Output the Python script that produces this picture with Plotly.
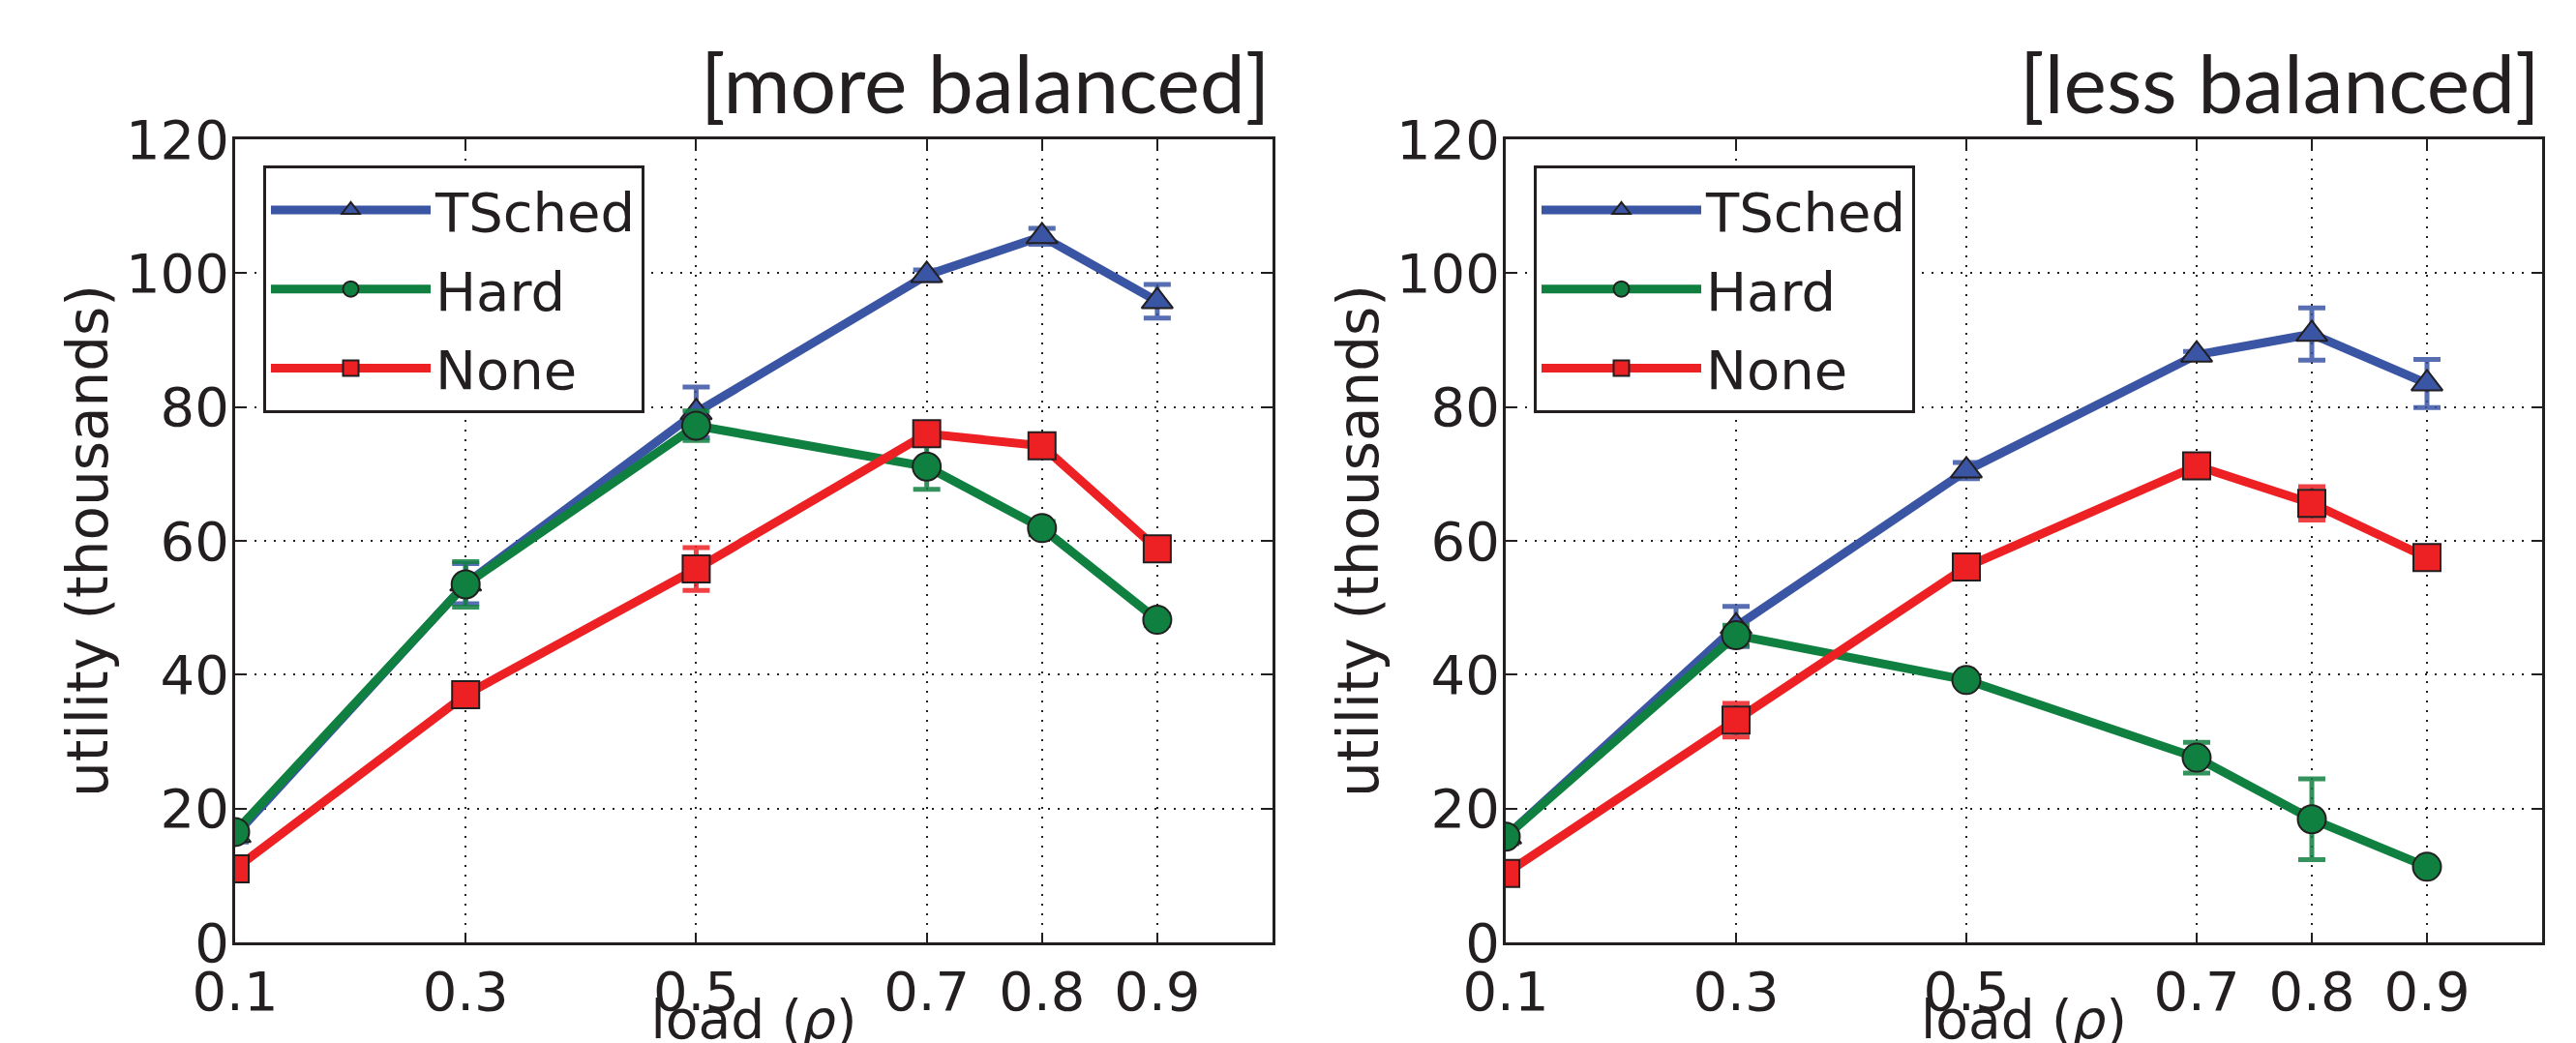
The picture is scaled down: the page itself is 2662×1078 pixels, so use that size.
import plotly.graph_objects as go
from plotly.subplots import make_subplots

# ---------------- data ----------------
loads = [0.1, 0.3, 0.5, 0.7, 0.8, 0.9]
x_tick_vals = [0.1, 0.3, 0.5, 0.7, 0.8, 0.9]
x_tick_text = ["0.1", "0.3", "0.5", "0.7", "0.8", "0.9"]
y_tick_vals = [0, 20, 40, 60, 80, 100, 120]
y_tick_text = ["0", "20", "40", "60", "80", "100", "120"]

series_names = ["TSched", "Hard", "None"]
panel_titles = ["[more balanced]", "[less balanced]"]

# left panel: more balanced (thousands)
more_tsched = [16.0, 53.6, 79.2, 99.7, 105.5, 95.8]
more_tsched_err = [1.0, 3.0, 3.8, 0.8, 1.2, 2.5]
more_hard = [16.5, 53.5, 77.2, 71.1, 61.9, 48.2]
more_hard_err = [1.0, 3.4, 2.2, 3.4, 1.0, 0.8]
more_none = [11.0, 37.0, 55.8, 76.0, 74.2, 58.8]
more_none_err = [1.0, 0.8, 3.2, 1.6, 1.0, 0.8]

# right panel: less balanced (thousands)
less_tsched = [15.8, 47.2, 70.5, 87.8, 90.9, 83.5]
less_tsched_err = [1.0, 3.0, 1.2, 0.5, 3.9, 3.6]
less_hard = [15.8, 45.9, 39.2, 27.6, 18.4, 11.3]
less_hard_err = [1.0, 1.5, 0.5, 2.3, 6.05, 0.5]
less_none = [10.3, 33.2, 56.1, 71.2, 65.6, 57.5]
less_none_err = [1.0, 2.5, 0.5, 1.0, 2.5, 0.5]

# ---------------- styles ----------------
colors = {"TSched": "#3a55a4", "Hard": "#108040", "None": "#ed2024"}
err_colors = {"TSched": "rgba(58,85,164,0.85)", "Hard": "rgba(16,128,64,0.85)",
              "None": "rgba(237,32,36,0.85)"}
symbols = {"TSched": "triangle-up", "Hard": "circle", "None": "square"}
sizes = {"TSched": 28, "Hard": 29, "None": 28}
ink = "#231f20"
tick_font = dict(family="DejaVu Sans", size=56, color=ink)

W, H = 2662, 1078
fig = make_subplots(rows=1, cols=2)

panels = [
    ([more_tsched, more_hard, more_none], [more_tsched_err, more_hard_err, more_none_err], "legend"),
    ([less_tsched, less_hard, less_none], [less_tsched_err, less_hard_err, less_none_err], "legend2"),
]

for col, (vals, errs, leg) in enumerate(panels, start=1):
    for name, y, e in zip(series_names, vals, errs):
        fig.add_trace(go.Scatter(
            x=loads, y=y, name=name, mode="lines+markers",
            line=dict(color=colors[name], width=9),
            marker=dict(symbol=symbols[name], size=sizes[name], color=colors[name],
                        line=dict(color=ink, width=2)),
            error_y=dict(type="data", array=e, visible=True, color=err_colors[name],
                         thickness=5, width=14),
            legend=leg, legendgroup=name + str(col),
        ), row=1, col=col)

# domains in pixels -> paper
def px_x(p):
    return p / W

def px_y(p):
    return (H - p) / H

x_domains = [[px_x(235), px_x(1307)], [px_x(1548), px_x(2619)]]
y_domain = [px_y(966), px_y(136)]

for i in range(2):
    xa = "xaxis" if i == 0 else "xaxis2"
    ya = "yaxis" if i == 0 else "yaxis2"
    fig.layout[xa].update(
        domain=x_domains[i], range=[0.1, 1.0], tickvals=x_tick_vals, ticktext=x_tick_text,
        showline=True, linewidth=3, linecolor=ink, mirror="ticks",
        ticks="inside", ticklen=10, tickwidth=2, tickcolor=ink,
        showgrid=True, gridcolor=ink, gridwidth=2, griddash="2px,8px",
        zeroline=False, tickfont=tick_font,
        title=dict(text="load (<i>ρ</i>)", font=dict(family="DejaVu Sans", size=55, color=ink),
                   standoff=9),
        automargin=False,
    )
    fig.layout[ya].update(
        domain=y_domain, range=[0, 120], tickvals=y_tick_vals, ticktext=y_tick_text,
        showline=True, linewidth=3, linecolor=ink, mirror="ticks",
        ticks="inside", ticklen=10, tickwidth=2, tickcolor=ink,
        showgrid=True, gridcolor=ink, gridwidth=2, griddash="2px,8px",
        zeroline=False, tickfont=tick_font, ticklabelstandoff=-8,
        title=dict(text="utility (thousands)", font=dict(family="DejaVu Sans", size=58, color=ink),
                   standoff=0),
        automargin=False,
    )
    fig.add_annotation(
        text=panel_titles[i], xref=("x domain" if i == 0 else "x2 domain"), x=1.0,
        xanchor="right", yref="paper", y=px_y(76), yanchor="middle", showarrow=False,
        font=dict(family="Lato", size=84, color=ink),
    )

legend_style = dict(
    xanchor="left", yanchor="top", y=px_y(163),
    bordercolor=ink, borderwidth=3, bgcolor="white",
    font=dict(family="DejaVu Sans", size=56, color=ink),
    itemwidth=165, tracegroupgap=6, traceorder="grouped",
)
fig.update_layout(
    width=W, height=H,
    margin=dict(l=0, r=0, t=0, b=0),
    paper_bgcolor="white", plot_bgcolor="white",
    legend=dict(x=px_x(264), **legend_style),
    legend2=dict(x=px_x(1577), **legend_style),
    showlegend=True,
)

fig.write_html("out.html")
